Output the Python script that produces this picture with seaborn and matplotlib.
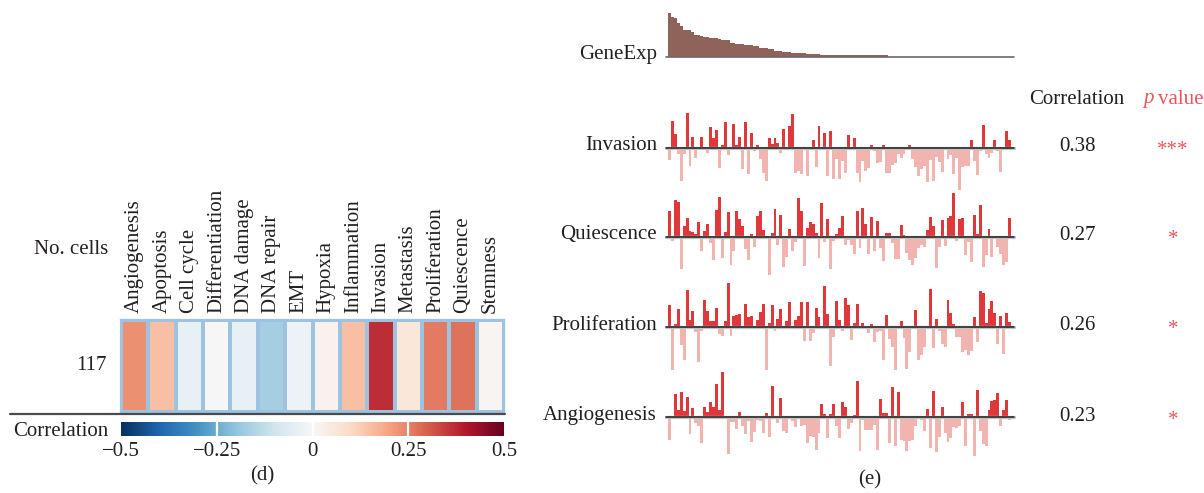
import numpy as np
import pandas as pd
import matplotlib
matplotlib.use("Agg")
import matplotlib.pyplot as plt
import seaborn as sns
from matplotlib.lines import Line2D

# ---------------- data ----------------
signatures = ["Angiogenesis", "Apoptosis", "Cell cycle", "Differentiation", "DNA damage",
              "DNA repair", "EMT", "Hypoxia", "Inflammation", "Invasion", "Metastasis",
              "Proliferation", "Quiescence", "Stemness"]
signature_corr = [0.23, 0.15, -0.04, 0.0, -0.04, -0.17, -0.03, 0.02, 0.15, 0.37, 0.06,
                  0.26, 0.27, 0.01]
n_cells = ["117"]
cbar_ticks = [-0.5, -0.25, 0, 0.25, 0.5]
cbar_ticklabels = ["\u22120.5", "\u22120.25", "0", "0.25", "0.5"]

gene_exp = [130, 118, 115, 100, 91, 79, 79, 79, 73, 64,
            64, 61, 58, 58, 55, 55, 55, 52, 49, 49,
            49, 40, 40, 37, 37, 37, 34, 34, 34, 31,
            31, 25, 25, 25, 22, 22, 16, 16, 16, 13,
            13, 13, 10, 10, 10, 10, 10, 7, 7, 7,
            7, 7] + [4] * 23 + [0] * 42

invasion = [-37, 80, 41, -19, -100, -19, 104, -55, 32, -31,
            0, 32, 0, -16, 62, 29, 53, -61, 8, 77,
            -22, 0, 71, 8, 32, -64, 77, -79, 44, -10,
            8, -34, -76, -100, 29, 11, 29, 14, -16, 56,
            0, 65, 101, -76, -70, -79, 0, -85, 0, 23,
            -58, 65, -7, 44, -85, 50, -94, -34, -94, -40,
            -76, 38, 0, 29, -76, -103, -40, -70, -61, 8,
            -10, -46, -43, 8, -76, -76, -52, -46, -19, -31,
            -19, -7, 8, -34, -58, -85, -64, -55, -103, -37,
            -100, -28, -43, -73, -7, -34, -22, -79, -31, -127,
            -58, -55, -55, 23, -40, -82, -10, 68, -19, -31,
            -16, 23, -10, -73, 0, 50, 23]

quiescence = [77, -13, 110, 104, -97, 32, 56, 17, 14, 8,
              44, -43, 17, 38, -19, -70, 80, 119, -64, 14,
              74, -85, -43, 77, 53, 32, -37, -70, 8, -31,
              62, 77, 20, 0, -115, 11, 83, -25, 65, -91,
              -61, 23, -43, -16, 116, 77, -88, 26, 44, 38,
              11, -64, 101, -16, 53, -97, -13, 8, 26, 62,
              -25, -10, -25, -52, 77, -34, 86, 38, -52, 59,
              -43, 47, -34, -73, 11, 11, -19, -67, -67, 35,
              5, -49, -70, -85, -64, -34, -25, -31, 20, 59,
              32, -94, -31, 50, -28, 56, 62, 131, -13, 53,
              56, -55, -16, -76, 65, 8, 95, -91, -55, 23,
              -61, 0, -31, -52, -85, -76, 56]

proliferation = [66, -129, 9, 54, -54, -99, 111, 21, 48, -15,
                 -105, -12, 81, 48, 18, 18, 57, -21, -27, 18,
                 132, -27, 33, 36, 39, 0, 69, 30, 33, 0,
                 21, 45, 69, -129, 12, 66, -12, 24, 54, 0,
                 18, 75, 0, 21, 33, 75, -42, 75, -42, -18,
                 57, 30, 0, 123, 39, -117, -30, 78, 21, -12,
                 87, 66, -39, 12, 69, 0, 12, 0, -18, 9,
                 -45, -15, -12, -99, 36, -36, -60, -129, 0, 18,
                 -33, -126, -75, 3, 51, -99, -84, -60, 0, 114,
                 -63, 24, -12, -51, -60, 81, 42, 9, -30, -30,
                 -75, -69, -84, -72, 30, -45, 108, 102, 12, 54,
                 78, 42, -51, 33, -81, 42, 15]

angiogenesis = [-68, 0, 70, 22, 76, 19, 61, -50, 28, -17,
                -26, -77, 31, 16, 46, 31, 100, 22, 136, -5,
                -110, -14, -14, -35, 16, -26, -50, -11, -74, -44,
                -8, -11, -47, 13, -59, 94, 0, -17, 58, -41,
                -47, 0, -11, -29, 0, -26, -23, -77, -56, -59,
                -98, -47, 40, 10, -62, 10, 40, -26, -62, 46,
                31, -35, -17, 7, 109, -101, -8, -38, -38, -38,
                -23, -98, 55, 13, 13, -77, 91, -86, 76, -68,
                -71, -101, -71, -68, -26, 0, -8, -41, 25, -92,
                79, -104, -59, 31, -47, -74, -62, -29, -32, -26,
                46, -86, 10, 10, -116, 82, -41, -80, -86, 22,
                49, 52, 73, -26, 22, 52, -8]

row_names = ["Invasion", "Quiescence", "Proliferation", "Angiogenesis"]
row_values = [invasion, quiescence, proliferation, angiogenesis]
row_corr = ["0.38", "0.27", "0.26", "0.23"]
row_pval = ["***", "*", "*", "*"]

# ---------------- style ----------------
sns.set_style("white")
plt.rcParams["font.family"] = ["Liberation Serif", "DejaVu Serif"]
plt.rcParams["font.size"] = 15
TXT = "#231f20"
RED = "#e0373a"
PINK = "#f2b4ae"
BROWN = "#8f6359"
PRED = "#e9555a"

W, H = 1204, 493
fig = plt.figure(figsize=(W / 100, H / 100), dpi=100)


def ax_px(x0, y0, x1, y1):
    return fig.add_axes([x0 / W, 1 - y1 / H, (x1 - x0) / W, (y1 - y0) / H])


def ftext(x, y, s, **kw):
    kw.setdefault("color", TXT)
    kw.setdefault("fontsize", 15)
    return fig.text(x / W, 1 - y / H, s, **kw)


# ---------------- panel (d): heatmap ----------------
hm_ax = ax_px(121, 320, 504, 412)
cb_ax = ax_px(121, 422, 504, 436)
df_hm = pd.DataFrame([signature_corr], columns=signatures, index=n_cells)
sns.heatmap(df_hm, ax=hm_ax, cmap="RdBu_r", vmin=-0.5, vmax=0.5,
            linewidths=1.6, linecolor="#9cc4e2", cbar_ax=cb_ax,
            cbar_kws={"orientation": "horizontal", "ticks": cbar_ticks})
hm_ax.xaxis.tick_top()
hm_ax.set_xticklabels(signatures, rotation=90, fontsize=15, color=TXT)
hm_ax.set_yticklabels(n_cells, rotation=0, fontsize=15, color=TXT)
hm_ax.tick_params(axis="x", length=0, pad=5)
hm_ax.tick_params(axis="y", length=0, pad=10)
hm_ax.set_xlabel("")
hm_ax.set_ylabel("")
for sp in hm_ax.spines.values():
    sp.set_visible(True)
    sp.set_color("#9cc4e2")
    sp.set_linewidth(1.6)

cb_ax.set_xticks(cbar_ticks)
cb_ax.set_xticklabels(cbar_ticklabels, fontsize=15, color=TXT)
cb_ax.tick_params(axis="x", length=0, pad=4)
for v in [-0.25, 0, 0.25]:
    cb_ax.axvline(v, color="white", lw=1.6)
cb = hm_ax.collections[0].colorbar
cb.outline.set_visible(False)

ftext(108, 250, "No. cells", ha="right", va="center")
ftext(108, 431, "Correlation", ha="right", va="center")
fig.add_artist(Line2D([10 / W, 505 / W], [1 - 414 / H, 1 - 414 / H],
                      color="#4a4a4a", lw=1.6, transform=fig.transFigure))
ftext(262, 476, "(d)", ha="center", va="center")


# ---------------- panel (e): bar rows ----------------
def draw_bars(ax, vals, pos_color, neg_color):
    df = pd.DataFrame({"i": np.arange(len(vals)), "v": vals})
    df["s"] = np.where(df["v"] >= 0, "pos", "neg")
    sns.barplot(data=df, x="i", y="v", hue="s", hue_order=["pos", "neg"],
                palette={"pos": pos_color, "neg": neg_color}, dodge=False,
                width=1.0, saturation=1, legend=False, ax=ax, linewidth=0,
                errorbar=None)
    for p in ax.patches:
        cx = p.get_x() + p.get_width() / 2
        p.set_clip_on(False)
        p.set_antialiased(False)
        p.set_linewidth(0)
        p.set_x(cx - 0.5)
        p.set_width(1.0)
    ax.set_xlim(-0.5, len(vals) - 0.5)
    ax.axis("off")


X0, X1 = 668, 1011
ext = (2 / (X1 - X0), 1 + 3 / (X1 - X0))

# GeneExp
gy = 56.5
g_ax = ax_px(X0, gy - 45, X1, gy)
draw_bars(g_ax, gene_exp, BROWN, BROWN)
g_ax.set_ylim(0, 135)
g_ax.axhline(0, xmin=-ext[0], xmax=ext[1], color="#6a6a6a", lw=1.2, clip_on=False, zorder=5)
ftext(657, gy - 2, "GeneExp", ha="right", va="center")

baselines = [147.7, 236.7, 327.0, 417.3]
for name, vals, yb, c, pv in zip(row_names, row_values, baselines, row_corr, row_pval):
    ax = ax_px(X0, yb - 45, X1, yb + 45)
    draw_bars(ax, vals, RED, PINK)
    ax.set_ylim(-135, 135)
    ax.axhline(0, xmin=-ext[0], xmax=ext[1], color="#c4c4c4", lw=2.4, clip_on=False, zorder=5)
    ax.axhline(0, xmin=-ext[0], xmax=ext[1], color="#1c1c1c", lw=1.1, clip_on=False, zorder=6)
    ftext(657, yb - 2, name, ha="right", va="center")
    ftext(1077, yb - 1, c, ha="center", va="center")
    ftext(1173, yb + 3, pv, ha="center", va="center", color=PRED)

ftext(1077, 99, "Correlation", ha="center", va="center")
ftext(1143, 99, "p", ha="left", va="center", color=PRED, style="italic")
ftext(1158, 99, "value", ha="left", va="center", color=PRED)
ftext(870, 480, "(e)", ha="center", va="center")

fig.savefig("out.png", dpi=100)
